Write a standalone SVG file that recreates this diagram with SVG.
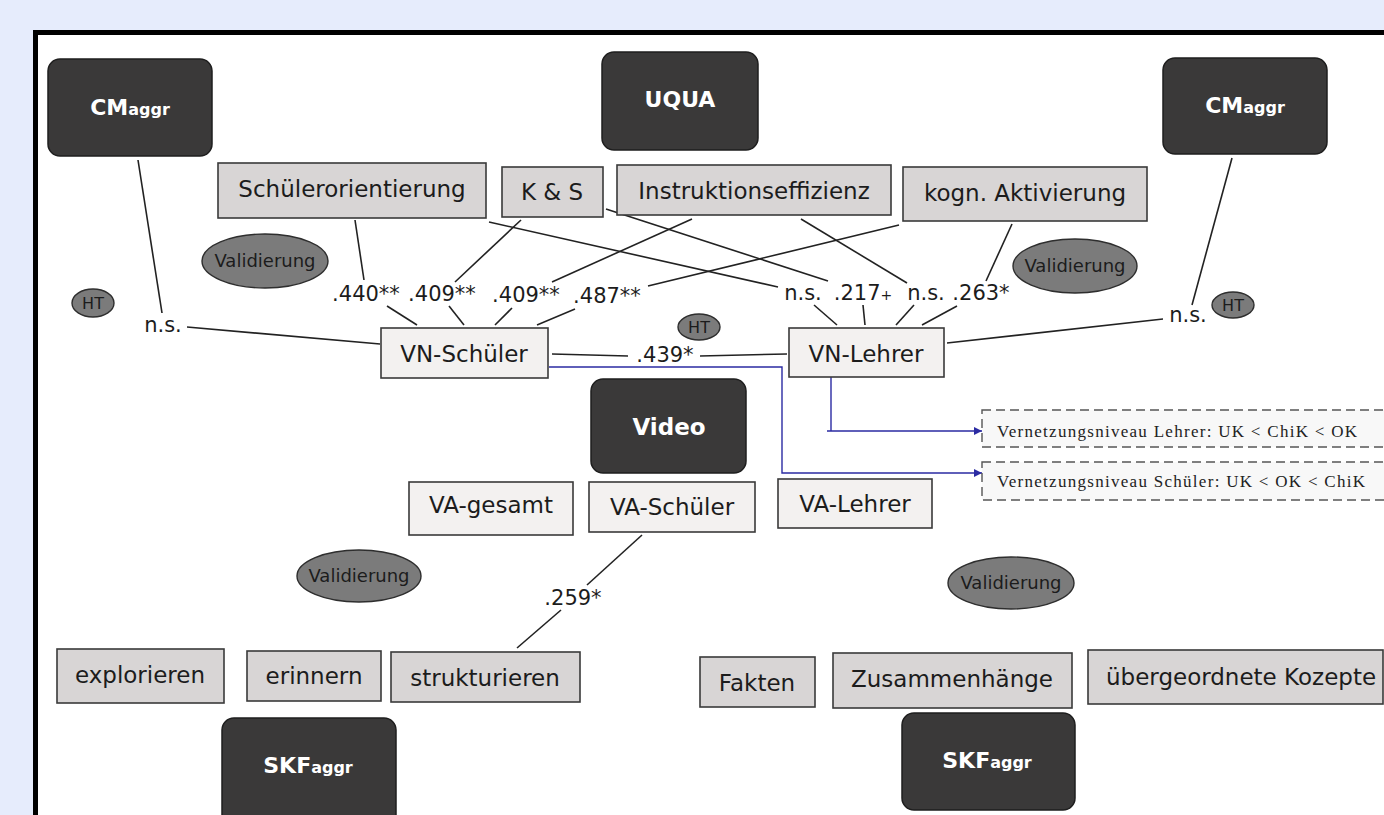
<svg xmlns="http://www.w3.org/2000/svg" width="1384" height="815" viewBox="0 0 1384 815">
<defs>
<marker id="arr" viewBox="0 0 10 10" refX="10" refY="5" markerWidth="10" markerHeight="8" markerUnits="userSpaceOnUse" orient="auto">
<path d="M0,0 L10,5 L0,10 z" fill="#2b2ba3"/>
</marker>
<style>
.dark{fill:#3a3939;stroke:#1e1e1e;stroke-width:1.5}
.cat{fill:#d8d5d5;stroke:#3a3a3a;stroke-width:1.6}
.var{fill:#f3f1f0;stroke:#3a3a3a;stroke-width:1.6}
.ell{fill:#7b7b7b;stroke:#2e2e2e;stroke-width:1.4}
.dash{fill:#f8f8f8;stroke:#555;stroke-width:1.4;stroke-dasharray:9 5}
.t{font-family:"DejaVu Sans",Verdana,sans-serif;font-size:23px;fill:#1c1c1c;text-anchor:middle}
.ts{text-anchor:start}
.b{font-family:"DejaVu Sans",Verdana,sans-serif;font-weight:bold;font-size:22px;fill:#fff;text-anchor:middle}
.sub{font-size:16px}
.v{font-family:"DejaVu Sans",Verdana,sans-serif;font-size:18px;fill:#1c1c1c;text-anchor:middle}
.ht{font-family:"DejaVu Sans",Verdana,sans-serif;font-size:16px;fill:#1c1c1c;text-anchor:middle}
.l{font-family:"DejaVu Sans",Verdana,sans-serif;font-size:21px;fill:#1c1c1c;text-anchor:middle}
.s{font-family:"Liberation Serif","Times New Roman",serif;font-size:17px;fill:#222}
.c line{stroke:#222;stroke-width:1.6}
.blue{fill:none;stroke:#2b2ba3;stroke-width:1.4}
</style>
</defs>
<rect x="0" y="0" width="1384" height="815" fill="#e6ecfc"/>
<rect x="35.5" y="32.5" width="1400" height="800" fill="#fff" stroke="#000" stroke-width="5"/>

<g id="connectors" class="c">
<line x1="138" y1="160" x2="162" y2="313"/>
<line x1="187" y1="327" x2="380" y2="344"/>
<line x1="355" y1="220" x2="364" y2="280"/>
<line x1="387" y1="306" x2="417" y2="325"/>
<line x1="521" y1="220" x2="455" y2="282"/>
<line x1="449" y1="306" x2="464" y2="325"/>
<line x1="692" y1="219" x2="552" y2="282"/>
<line x1="512" y1="308" x2="495" y2="325"/>
<line x1="899" y1="225" x2="648" y2="286"/>
<line x1="575" y1="309" x2="537" y2="325"/>
<line x1="489" y1="222" x2="778" y2="287"/>
<line x1="606" y1="209" x2="828" y2="281"/>
<line x1="801" y1="219" x2="907" y2="283"/>
<line x1="1012" y1="224" x2="986" y2="281"/>
<line x1="814" y1="305" x2="837" y2="325"/>
<line x1="863" y1="305" x2="865" y2="325"/>
<line x1="914" y1="305" x2="896" y2="325"/>
<line x1="957" y1="306" x2="922" y2="325"/>
<line x1="1232" y1="158" x2="1192" y2="305"/>
<line x1="1163" y1="319" x2="947" y2="343"/>
<line x1="552" y1="354" x2="628" y2="356"/>
<line x1="700" y1="356" x2="787" y2="354"/>
<line x1="642" y1="535" x2="587" y2="585"/>
<line x1="561" y1="610" x2="517" y2="648"/>
<polyline class="blue" points="549,367 782,367 782,473 982,473" marker-end="url(#arr)"/>
<polyline class="blue" points="831,377 831,431 827,431 982,431" marker-end="url(#arr)"/>
<text class="l" x="163" y="332">n.s.</text>
<text class="l" x="366" y="301">.440**</text>
<text class="l" x="442" y="301">.409**</text>
<text class="l" x="526" y="302">.409**</text>
<text class="l" x="607" y="303">.487**</text>
<text class="l" x="803" y="300">n.s.</text>
<text class="l" x="863" y="300">.217<tspan font-size="14">+</tspan></text>
<text class="l" x="926" y="300">n.s.</text>
<text class="l" x="981" y="300">.263*</text>
<text class="l" x="1188" y="322">n.s.</text>
<text class="l" x="665" y="362">.439*</text>
<text class="l" x="573" y="605">.259*</text>
</g>

<g id="cm-left"><rect class="dark" x="48" y="59" width="164" height="97" rx="12"/><text class="b" x="130" y="115">CM<tspan class="sub">aggr</tspan></text></g>
<g id="uqua"><rect class="dark" x="602" y="52" width="156" height="98" rx="12"/><text class="b" x="680" y="107">UQUA</text></g>
<g id="cm-right"><rect class="dark" x="1163" y="58" width="164" height="96" rx="12"/><text class="b" x="1245" y="113">CM<tspan class="sub">aggr</tspan></text></g>

<g id="schuelerorientierung"><rect class="cat" x="218" y="163" width="268" height="55"/><text class="t" x="352" y="197">Schülerorientierung</text></g>
<g id="ks"><rect class="cat" x="502" y="167" width="101" height="50"/><text class="t" x="552" y="200">K &amp; S</text></g>
<g id="instruktionseffizienz"><rect class="cat" x="617" y="165" width="274" height="50"/><text class="t" x="754" y="199">Instruktionseffizienz</text></g>
<g id="kogn"><rect class="cat" x="903" y="167" width="244" height="54"/><text class="t" x="1025" y="201">kogn. Aktivierung</text></g>

<g id="val1"><ellipse class="ell" cx="265" cy="261" rx="63" ry="27"/><text class="v" x="265" y="267">Validierung</text></g>
<g id="val2"><ellipse class="ell" cx="1075" cy="266" rx="62" ry="27"/><text class="v" x="1075" y="272">Validierung</text></g>
<g id="val3"><ellipse class="ell" cx="359" cy="576" rx="62" ry="26"/><text class="v" x="359" y="582">Validierung</text></g>
<g id="val4"><ellipse class="ell" cx="1011" cy="583" rx="63" ry="26"/><text class="v" x="1011" y="589">Validierung</text></g>

<g id="ht1"><ellipse class="ell" cx="93" cy="303" rx="21" ry="14"/><text class="ht" x="93" y="309">HT</text></g>
<g id="ht2"><ellipse class="ell" cx="699" cy="327" rx="21" ry="13"/><text class="ht" x="699" y="333">HT</text></g>
<g id="ht3"><ellipse class="ell" cx="1233" cy="305" rx="21" ry="13"/><text class="ht" x="1233" y="311">HT</text></g>

<g id="vn-schueler"><rect class="var" x="381" y="328" width="167" height="50"/><text class="t" x="464" y="362">VN-Schüler</text></g>
<g id="vn-lehrer"><rect class="var" x="789" y="328" width="155" height="49"/><text class="t" x="866" y="362">VN-Lehrer</text></g>

<g id="note-lehrer"><rect class="dash" x="982" y="410" width="420" height="37"/><text class="s" x="997" y="437" textLength="360" lengthAdjust="spacing">Vernetzungsniveau Lehrer: UK &lt; ChiK &lt; OK</text></g>
<g id="note-schueler"><rect class="dash" x="982" y="462" width="420" height="38"/><text class="s" x="997" y="487" textLength="368" lengthAdjust="spacing">Vernetzungsniveau Schüler: UK &lt; OK &lt; ChiK</text></g>

<g id="video"><rect class="dark" x="591" y="379" width="155" height="94" rx="12"/><text class="b" x="669" y="435" style="font-size:23px">Video</text></g>

<g id="va-gesamt"><rect class="var" x="409" y="482" width="164" height="53"/><text class="t" x="491" y="513">VA-gesamt</text></g>
<g id="va-schueler"><rect class="var" x="589" y="482" width="166" height="50"/><text class="t" x="672" y="515">VA-Schüler</text></g>
<g id="va-lehrer"><rect class="var" x="778" y="479" width="154" height="49"/><text class="t" x="855" y="512">VA-Lehrer</text></g>

<g id="explorieren"><rect class="cat" x="57" y="649" width="167" height="54"/><text class="t" x="140" y="683">explorieren</text></g>
<g id="erinnern"><rect class="cat" x="247" y="651" width="134" height="50"/><text class="t" x="314" y="684">erinnern</text></g>
<g id="strukturieren"><rect class="cat" x="391" y="652" width="189" height="50"/><text class="t" x="485" y="686">strukturieren</text></g>
<g id="skf-left"><rect class="dark" x="222" y="718" width="174" height="110" rx="12"/><text class="b" x="308" y="773">SKF<tspan class="sub">aggr</tspan></text></g>

<g id="fakten"><rect class="cat" x="700" y="657" width="115" height="50"/><text class="t" x="757" y="691">Fakten</text></g>
<g id="zusammenhaenge"><rect class="cat" x="833" y="653" width="239" height="55"/><text class="t" x="952" y="687">Zusammenhänge</text></g>
<g id="konzepte"><rect class="cat" x="1088" y="650" width="295" height="54"/><text class="t ts" x="1106" y="685">übergeordnete Kozepte</text></g>
<g id="skf-right"><rect class="dark" x="902" y="713" width="173" height="97" rx="12"/><text class="b" x="987" y="768">SKF<tspan class="sub">aggr</tspan></text></g>
</svg>
